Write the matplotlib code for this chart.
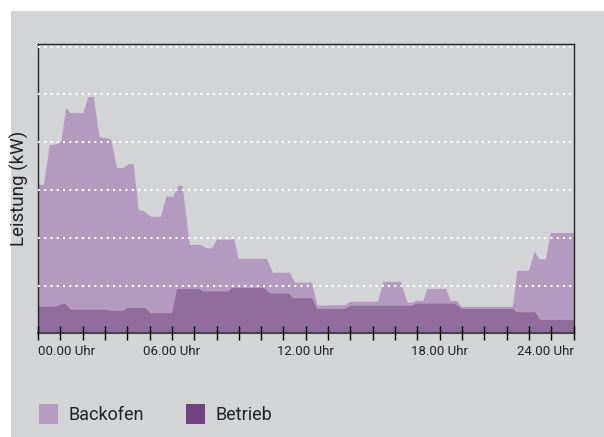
import matplotlib
matplotlib.use("Agg")
import matplotlib.pyplot as plt
from matplotlib.patches import Rectangle

# Leistung ueber den Tag (Stunden, kW)
backofen_h = [0.0, 0.24, 0.51, 0.81, 1.02, 1.24, 1.43, 2.0, 2.25, 2.48, 2.73, 3.26,
              3.52, 3.82, 4.04, 4.27, 4.49, 4.72, 5.05, 5.49, 5.73, 6.03, 6.28, 6.46,
              6.78, 7.29, 7.52, 7.78, 8.0, 8.67, 8.75, 8.97, 10.24, 10.51, 11.25, 11.51,
              12.26, 12.51, 13.75, 13.97, 15.21, 15.46, 16.24, 16.54, 16.78, 16.93, 17.25,
              17.43, 18.27, 18.48, 18.75, 18.97, 21.26, 21.46, 21.99, 22.23, 22.45, 22.74,
              22.96, 24.0]
backofen_kw = [3.12, 3.12, 3.95, 3.97, 4.02, 4.72, 4.62, 4.62, 4.96, 4.96, 4.12, 4.07,
               3.47, 3.47, 3.55, 3.55, 2.59, 2.57, 2.45, 2.45, 2.87, 2.87, 3.10, 3.10,
               1.86, 1.86, 1.79, 1.79, 1.97, 1.97, 2.03, 1.57, 1.57, 1.28, 1.28, 1.07,
               1.07, 0.59, 0.60, 0.67, 0.67, 1.09, 1.09, 0.65, 0.65, 0.69, 0.69,
               0.94, 0.94, 0.69, 0.69, 0.565, 0.565, 1.32, 1.32, 1.72, 1.56, 1.56,
               2.11, 2.11]

betrieb_h = [0.0, 0.76, 1.02, 1.21, 1.46, 3.08, 3.22, 3.8, 3.97, 4.79, 5.02, 5.99,
             6.21, 7.18, 7.40, 8.52, 8.67, 10.09, 10.39, 11.21, 11.43, 12.26, 12.48,
             13.75, 13.97, 16.74, 16.93, 18.67, 18.97, 21.26, 21.44, 22.26, 22.49, 24.0]
betrieb_kw = [0.565, 0.565, 0.62, 0.62, 0.50, 0.50, 0.48, 0.48, 0.54, 0.54, 0.43, 0.43,
              0.94, 0.94, 0.885, 0.885, 0.96, 0.96, 0.84, 0.84, 0.745, 0.745, 0.52,
              0.52, 0.585, 0.585, 0.63, 0.63, 0.52, 0.52, 0.45, 0.45, 0.29, 0.29]

tick_hours = [0, 6, 12, 18, 24]
tick_labels = ["00.00 Uhr", "06.00 Uhr", "12.00 Uhr", "18.00 Uhr", "24.00 Uhr"]
series_names = ["Backofen", "Betrieb"]

BG = "#d3d4d5"
C_BACK = "#b49abf"
C_BETR = "#8f6c9c"
LEG_COLORS = ["#b59cc0", "#704280"]

plt.rcParams["font.family"] = ["Roboto", "DejaVu Sans"]

W, H = 604, 437
fig = plt.figure(figsize=(W / 100, H / 100), dpi=100, facecolor="white")
fig.patches.append(Rectangle((11 / W, 0), 1 - 11 / W, 1 - 11 / H,
                             transform=fig.transFigure, facecolor=BG,
                             edgecolor="none", zorder=-10))

ax = fig.add_axes([38 / W, (H - 333.3) / H, (573.5 - 38) / W, (333.3 - 44.3) / H])
ax.set_zorder(1)
ax.set_facecolor(BG)

ax.fill_between(backofen_h, 0, backofen_kw, color=C_BACK, lw=0, zorder=1)
ax.fill_between(betrieb_h, 0, betrieb_kw, color=C_BETR, lw=0, zorder=1.5)

ax.set_xlim(0, 24)
ax.set_ylim(0, 6.05)

ax.set_yticks([1, 2, 3, 4, 5, 6])
ax.set_yticklabels([])
ax.tick_params(axis="y", length=0)
ax.yaxis.grid(True, color="white", linestyle=(0, (1, 2)), linewidth=1.5, zorder=2.5)
ax.set_axisbelow(False)

ax.set_xticks(tick_hours)
ax.set_xticks(range(0, 25), minor=True)
ax.set_xticklabels(tick_labels, fontsize=9.5, color="#222222")
ax.tick_params(axis="x", which="both", direction="inout", length=9.5, width=1,
               color="black", pad=4)
labs = ax.get_xticklabels()
labs[0].set_ha("left")
labs[-1].set_ha("right")

for side in ["left", "top", "right"]:
    ax.spines[side].set_color("#222222")
    ax.spines[side].set_linewidth(1)
ax.spines["bottom"].set_color("#444444")
ax.spines["bottom"].set_linewidth(1.5)

ax.set_ylabel("Leistung (kW)", fontsize=13.5, color="#222222", labelpad=3)

# Legende
leg_x = [38.5, 186]
for name, col, lx in zip(series_names, LEG_COLORS, leg_x):
    fig.patches.append(Rectangle((lx / W, (H - 424) / H), 19.5 / W, 20 / H,
                                 transform=fig.transFigure, facecolor=col,
                                 edgecolor="none"))
    fig.text((lx + 29.5) / W, (H - 415) / H, name, fontsize=13, color="#222222",
             va="center", ha="left")

fig.savefig("out.png", dpi=100, facecolor="white")
